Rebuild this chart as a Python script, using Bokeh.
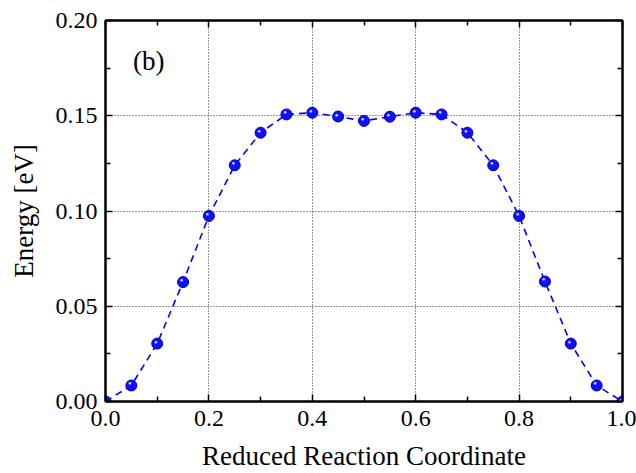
from bokeh.plotting import figure
from bokeh.models import Range1d, LinearAxis, FixedTicker, Label, ColumnDataSource
from bokeh.embed import file_html
from bokeh.resources import INLINE

# data
coord = [0.00, 0.05, 0.10, 0.15, 0.20, 0.25, 0.30, 0.35, 0.40, 0.45, 0.50,
         0.55, 0.60, 0.65, 0.70, 0.75, 0.80, 0.85, 0.90, 0.95, 1.00]
energy = [0.000, 0.0084, 0.0304, 0.0627, 0.0974, 0.1240, 0.1411, 0.1507, 0.1516, 0.1496, 0.1473,
          0.1495, 0.1516, 0.1507, 0.1411, 0.1240, 0.0974, 0.0630, 0.0304, 0.0084, 0.000]
x_major = [0.0, 0.2, 0.4, 0.6, 0.8, 1.0]
x_minor = [0.1, 0.3, 0.5, 0.7, 0.9]
y_major = [0.00, 0.05, 0.10, 0.15, 0.20]
y_minor = [0.025, 0.075, 0.125, 0.175]
x_labels = {0.0: "0.0", 0.2: "0.2", 0.4: "0.4", 0.6: "0.6", 0.8: "0.8", 1.0: "1.0"}
y_labels = {0.0: "0.00", 0.05: "0.05", 0.1: "0.10", 0.15: "0.15", 0.2: "0.20"}
x_title = "Reduced Reaction Coordinate"
y_title = "Energy [eV]"
panel = "(b)"

FONT = "Liberation Serif"
src = ColumnDataSource(dict(x=coord, y=energy, t=["\u25CF"] * len(coord)))

p = figure(width=636, height=473, output_backend="svg", toolbar_location=None,
           x_range=Range1d(0, 1), y_range=Range1d(0, 0.2),
           min_border_left=105, min_border_right=14, min_border_top=20, min_border_bottom=72)
p.background_fill_color = "white"
p.border_fill_color = "white"
p.outline_line_color = "black"
p.outline_line_width = 2

xt = FixedTicker(ticks=x_major, minor_ticks=x_minor)
yt = FixedTicker(ticks=y_major, minor_ticks=y_minor)

def style(ax, ticker, labels):
    ax.ticker = ticker
    ax.major_label_overrides = labels
    ax.axis_line_width = 2
    ax.axis_line_color = "black"
    ax.major_tick_in = 7
    ax.major_tick_out = 0
    ax.minor_tick_in = 5
    ax.minor_tick_out = 0
    ax.major_tick_line_width = 1.5
    ax.minor_tick_line_width = 1.5
    ax.major_label_text_font = FONT
    ax.major_label_text_font_size = "24px"
    ax.major_label_text_color = "black"
    ax.axis_label_text_font = FONT
    ax.axis_label_text_font_size = "27px"
    ax.axis_label_text_font_style = "normal"
    ax.axis_label_text_color = "black"

style(p.xaxis[0], xt, x_labels)
style(p.yaxis[0], yt, y_labels)
p.xaxis[0].axis_label = x_title
p.yaxis[0].axis_label = y_title
p.xaxis[0].major_label_standoff = 9
p.yaxis[0].major_label_standoff = 8
p.xaxis[0].axis_label_standoff = 12
p.yaxis[0].axis_label_standoff = 14

top = LinearAxis()
right = LinearAxis()
style(top, xt, {v: "" for v in x_major})
style(right, yt, {v: "" for v in y_major})
top.major_label_standoff = 0
right.major_label_standoff = 0
p.add_layout(top, "above")
p.add_layout(right, "right")

p.xgrid.ticker = FixedTicker(ticks=x_major[1:-1])
p.ygrid.ticker = FixedTicker(ticks=y_major[1:-1])
for g in (p.xgrid, p.ygrid):
    g.grid_line_color = "#333333"
    g.grid_line_dash = "1 2"
    g.grid_line_width = 1

p.line("x", "y", source=src, line_color="#0000ff", line_width=1.6, line_dash="7 5")
p.scatter("x", "y", source=src, size=11, fill_color="#1010ff", line_color="#0000b0", line_width=1)
p.text("x", "y", text="t", source=src, text_font_size="6px", text_color="#d8d8ff",
       text_align="center", text_baseline="middle", x_offset=-1.5, y_offset=-2)

p.add_layout(Label(x=0.053, y=0.179, text=panel, text_font=FONT, text_font_size="27px",
                   text_color="black", text_align="left", text_baseline="middle"))

open("out.html", "w").write(file_html(p, INLINE))
